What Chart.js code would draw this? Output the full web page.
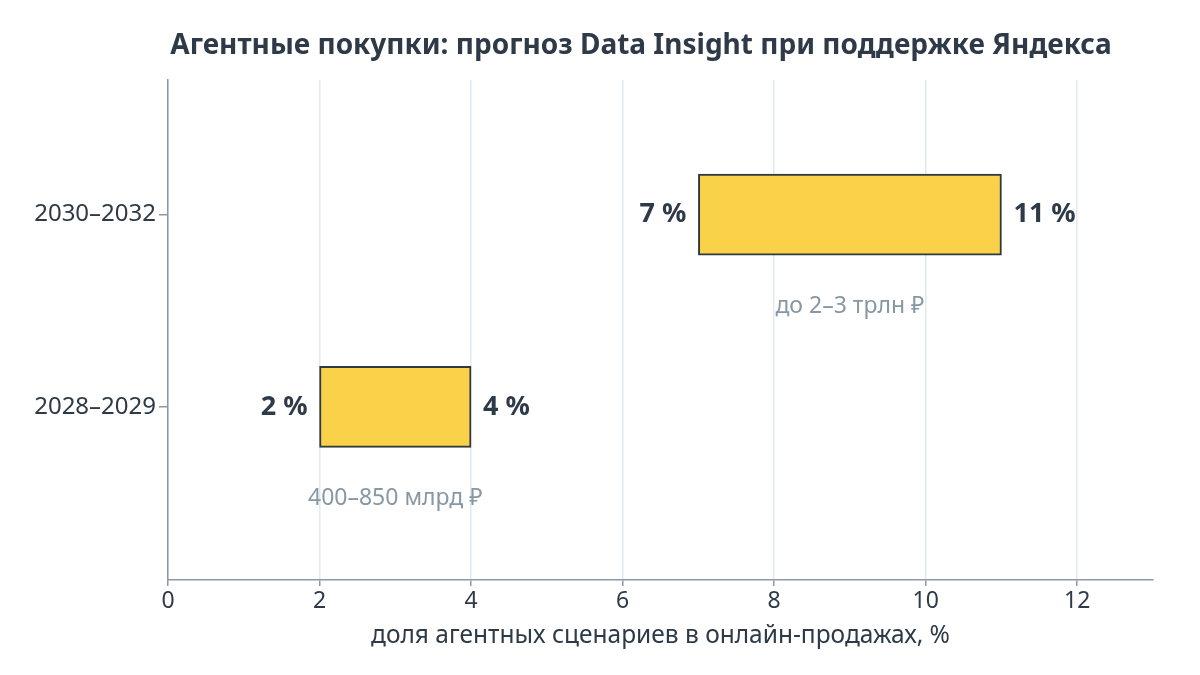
<!DOCTYPE html>
<html><head><meta charset="utf-8">
<script src="https://cdn.jsdelivr.net/npm/chart.js@4"></script>
<style>html,body{margin:0;padding:0;background:#fff}#wrap{width:1200px;height:675px}</style>
</head><body><div id="wrap"><canvas id="c" width="1200" height="675"></canvas></div>
<script>
const titleText = 'Агентные покупки: прогноз Data Insight при поддержке Яндекса';
const xAxisTitle = 'доля агентных сценариев в онлайн-продажах, %';
const categories = ['2028–2029', '2030–2032'];
const lows = [2, 7];
const highs = [4, 11];
const lowLabels = ['2 %', '7 %'];
const highLabels = ['4 %', '11 %'];
const notes = ['400–850 млрд ₽', 'до 2–3 трлн ₽'];
const xTickValues = [0, 2, 4, 6, 8, 10, 12];

const FONT = '"Noto Sans", "Open Sans", sans-serif';
const DARK = '#2e3a47';
const GREY = '#8797a3';
const AXIS = '#8c98a5';
const GRID = '#e2eaee';

const overlay = {
  id: 'overlay',
  afterDatasetsDraw(chart) {
    const ctx = chart.ctx;
    const meta = chart.getDatasetMeta(0);
    ctx.save();
    meta.data.forEach((el, i) => {
      const start = Math.min(el.x, el.base), end = Math.max(el.x, el.base);
      ctx.fillStyle = DARK;
      ctx.font = 'bold 27px ' + FONT;
      ctx.textBaseline = 'middle';
      ctx.textAlign = 'right';
      ctx.fillText(lowLabels[i], start - 12, el.y);
      ctx.textAlign = 'left';
      ctx.fillText(highLabels[i], end + 12, el.y);
      ctx.fillStyle = GREY;
      ctx.font = '23px ' + FONT;
      ctx.textAlign = 'center';
      ctx.fillText(notes[i], (start + end) / 2, el.y + 92);
    });
    ctx.fillStyle = DARK;
    ctx.font = 'bold 28px ' + FONT;
    ctx.textAlign = 'center';
    ctx.textBaseline = 'middle';
    ctx.fillText(titleText, 641, 46);
    ctx.restore();
  }
};

new Chart(document.getElementById('c'), {
  type: 'bar',
  data: {
    datasets: [{
      data: categories.map((c, i) => ({ x: [lows[i], highs[i]], y: i })),
      backgroundColor: '#fad24a',
      borderColor: '#2f3a3f',
      borderWidth: 2,
      borderSkipped: false,
      barThickness: 81
    }]
  },
  options: {
    indexAxis: 'y',
    responsive: false,
    animation: false,
    devicePixelRatio: 1,
    layout: { padding: { top: 80, right: 47, left: 0, bottom: 0 } },
    plugins: { legend: { display: false }, tooltip: { enabled: false }, title: { display: false } },
    scales: {
      x: {
        type: 'linear', min: 0, max: 13,
        afterBuildTicks(s) { s.ticks = xTickValues.map(v => ({ value: v })); },
        ticks: { color: DARK, font: { family: FONT, size: 23 }, padding: 2 },
        grid: { color: GRID, lineWidth: 1.5, tickColor: AXIS, tickLength: 6 },
        border: { color: AXIS, width: 1.5 },
        title: { display: true, text: xAxisTitle, color: DARK, font: { family: FONT, size: 24.5 }, padding: { top: 0, bottom: 24 } },
        afterFit(s) { s.height = 95; }
      },
      y: {
        type: 'linear', min: -0.9, max: 1.7, offset: false,
        afterBuildTicks(s) { s.ticks = categories.map((c, i) => ({ value: i })); },
        ticks: { color: DARK, font: { family: FONT, size: 24 }, padding: 3, callback: (v) => categories[v] ?? '' },
        grid: { offset: false, drawOnChartArea: false, tickColor: AXIS, tickLength: 9, lineWidth: 1.5 },
        border: { color: AXIS, width: 1.5 },
        afterFit(s) { s.width = 168; }
      }
    }
  },
  plugins: [overlay]
});
</script></body></html>
